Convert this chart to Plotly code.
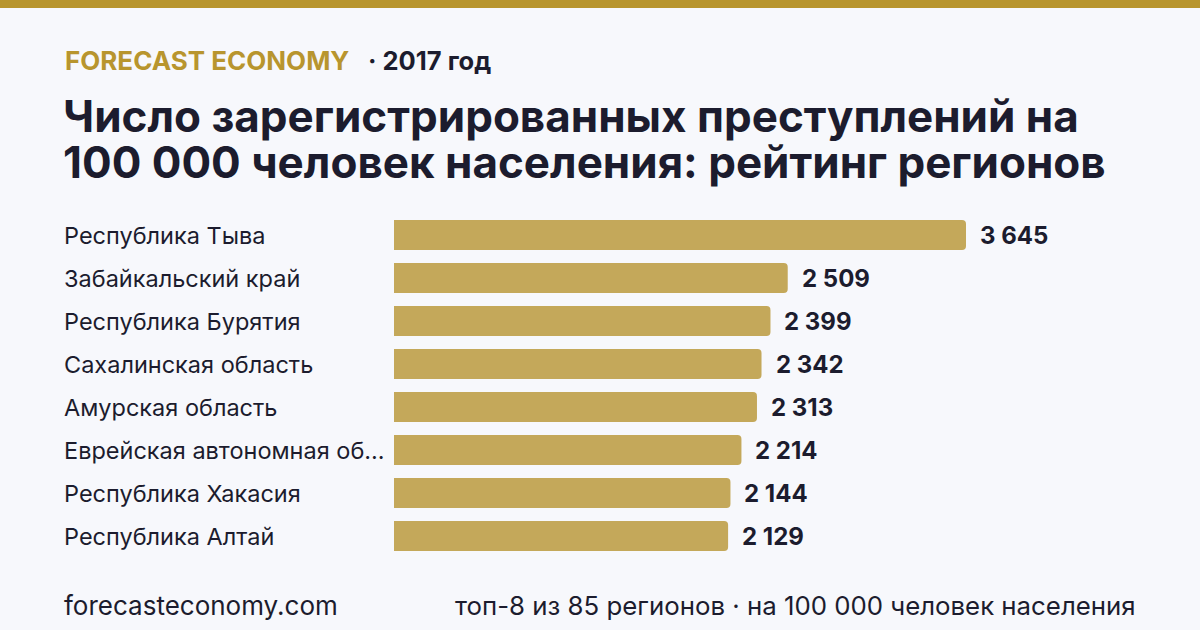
import plotly.graph_objects as go

# ---- data ----
regions = [
    "Республика Тыва",
    "Забайкальский край",
    "Республика Бурятия",
    "Сахалинская область",
    "Амурская область",
    "Еврейская автономная об...",
    "Республика Хакасия",
    "Республика Алтай",
]
values = [3645, 2509, 2399, 2342, 2313, 2214, 2144, 2129]
value_labels = ["3 645", "2 509", "2 399", "2 342", "2 313", "2 214", "2 144", "2 129"]

brand = "FORECAST ECONOMY"
year_text = "· 2017 год"
title_lines = ["Число зарегистрированных преступлений на",
               "100 000 человек населения: рейтинг регионов"]
footer_left = "forecasteconomy.com"
footer_right = "топ-8 из 85 регионов · на 100 000 человек населения"

# ---- style ----
W, H = 1200, 630
BG = "#f7f8fc"
GOLD = "#b8952e"
BAR = "#c4a85a"
DARK = "#1c1c2e"
FONT = "Inter"

def px_x(p):
    return p / W

def px_y(p):
    return 1 - p / H

fig = go.Figure()
fig.add_trace(go.Bar(
    x=values, y=regions, orientation="h",
    marker=dict(color=BAR, line=dict(width=0)),
    hoverinfo="skip",
))

x_left, x_right = 394, 1166
max_px = 966
x_range_max = max(values) * (x_right - x_left) / (max_px - x_left)

fig.update_layout(
    width=W, height=H,
    margin=dict(l=0, r=0, t=0, b=0),
    paper_bgcolor=BG, plot_bgcolor=BG,
    showlegend=False,
    bargap=0.3,
    barcornerradius=4,
    xaxis=dict(domain=[px_x(x_left), px_x(x_right)], range=[0, x_range_max],
               visible=False, fixedrange=True),
    yaxis=dict(domain=[px_y(557.5), px_y(213.5)], autorange="reversed",
               visible=False, fixedrange=True),
    font=dict(family=FONT, color=DARK),
)

annotations = []
for r, v, lab in zip(regions, values, value_labels):
    annotations.append(dict(
        x=px_x(62), xref="paper", y=r, yref="y", text=r, showarrow=False,
        xanchor="left", yanchor="middle",
        font=dict(family=FONT, size=23.5, color=DARK)))
    annotations.append(dict(
        x=v, xref="x", y=r, yref="y", text=f"<b>{lab}</b>", showarrow=False,
        xanchor="left", yanchor="middle", xshift=12,
        font=dict(family=FONT, size=24, color=DARK)))

title_html = "<br>".join(
    f'<span style="font-size:44px"><b>{t}</b></span>' for t in title_lines)

annotations += [
    dict(x=px_x(63), y=px_y(61), xref="paper", yref="paper", showarrow=False,
         xanchor="left", yanchor="middle", text=f"<b>{brand}</b>",
         font=dict(family=FONT, size=26, color=GOLD)),
    dict(x=px_x(366), y=px_y(61), xref="paper", yref="paper", showarrow=False,
         xanchor="left", yanchor="middle", text=f"<b>{year_text}</b>",
         font=dict(family=FONT, size=25.5, color=DARK)),
    dict(x=px_x(61), y=px_y(139), xref="paper", yref="paper", showarrow=False,
         xanchor="left", yanchor="middle", align="left", text=title_html,
         font=dict(family=FONT, size=35.4, color=DARK)),
    dict(x=px_x(62), y=px_y(605), xref="paper", yref="paper", showarrow=False,
         xanchor="left", yanchor="middle", text=footer_left,
         font=dict(family=FONT, size=26, color=DARK)),
    dict(x=px_x(1138), y=px_y(605), xref="paper", yref="paper", showarrow=False,
         xanchor="right", yanchor="middle", text=footer_right,
         font=dict(family=FONT, size=25.8, color=DARK)),
]
fig.update_layout(annotations=annotations)

fig.add_shape(type="rect", xref="paper", yref="paper",
              x0=0, x1=1, y0=px_y(8), y1=1,
              fillcolor=GOLD, line=dict(width=0), layer="above")

fig.write_html("out.html", config={"displayModeBar": False})
